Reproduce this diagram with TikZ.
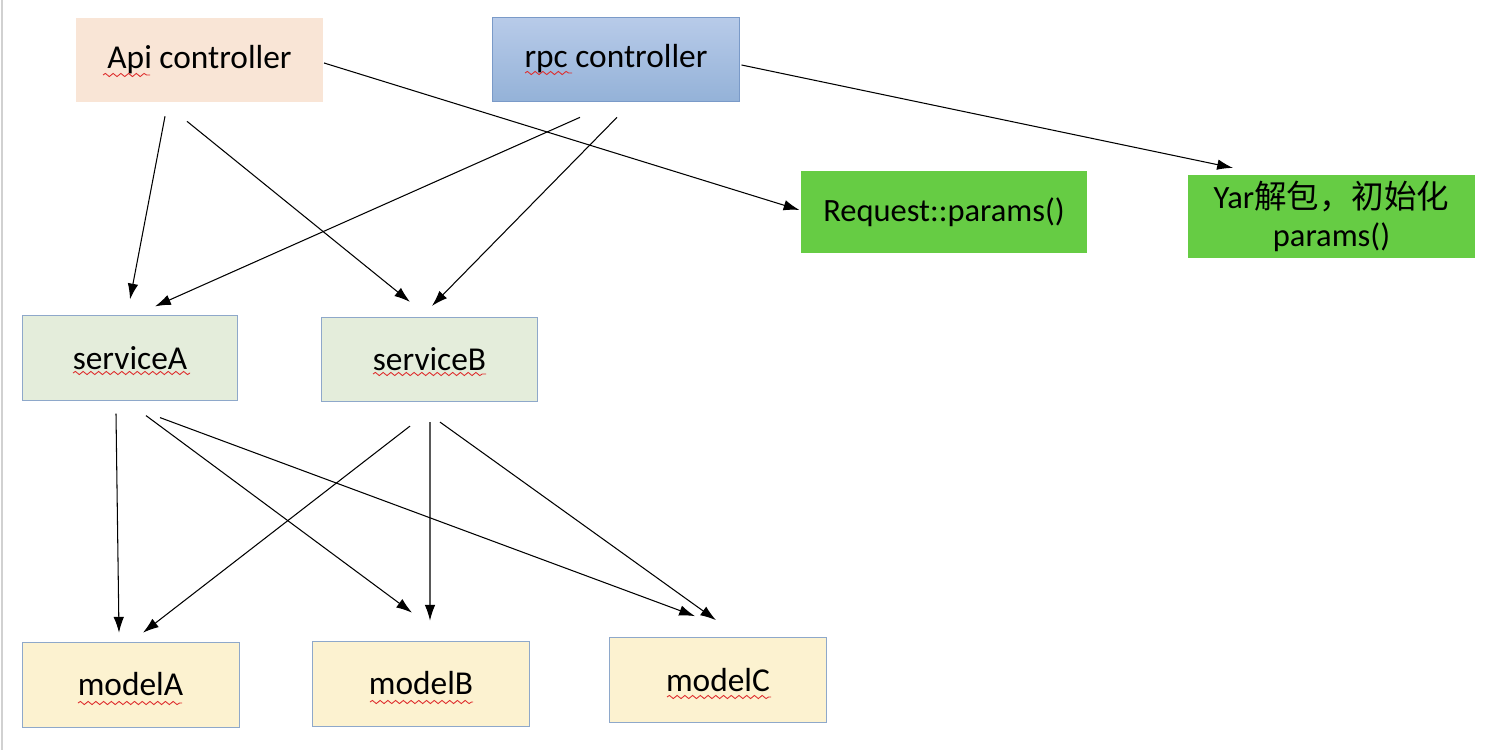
\documentclass[tikz,border=0pt]{standalone}
\usepackage{fontspec}
\setmainfont{Carlito}
\newfontfamily\cjk{Noto Sans CJK SC}
\usetikzlibrary{arrows.meta,decorations.pathmorphing}

\definecolor{apifill}{RGB}{249,229,214}
\definecolor{rpctop}{RGB}{184,203,233}
\definecolor{rpcbot}{RGB}{148,178,216}
\definecolor{rpcline}{RGB}{122,154,200}
\definecolor{grn}{RGB}{102,204,68}
\definecolor{svcfill}{RGB}{228,237,219}
\definecolor{modfill}{RGB}{252,242,208}
\definecolor{boxline}{RGB}{142,168,202}
\definecolor{spellred}{RGB}{222,45,45}

\begin{document}
\begin{tikzpicture}[x=0.02cm, y=-0.02cm,
		box/.style={inner sep=0pt, font=\fontsize{19}{23}\selectfont},
		ctrl/.style={box, minimum width=4.93cm, minimum height=1.68cm},
		svc/.style={box, draw=boxline, fill=svcfill, minimum width=4.31cm, minimum height=1.69cm},
		mdl/.style={box, draw=boxline, fill=modfill, minimum width=4.34cm, minimum height=1.70cm},
		res/.style={box, fill=grn, minimum width=5.73cm, minimum height=1.65cm, align=center,
			font=\fontsize{18.5}{22}\selectfont},
		call/.style={-{Latex[length=9pt,width=6pt]}, line width=0.6pt},
		wave/.style={spellred, line width=0.5pt, decorate,
			decoration={snake, amplitude=0.9pt, segment length=4.4pt}}]

	\useasboundingbox (0,0) rectangle (1504,750);
	\draw[black!18, line width=1pt] (2,0) -- (2,750);

	% controllers
	\node[ctrl, fill=apifill] (api) at (199.5,60) {Api controller};
	\node[ctrl, draw=rpcline, top color=rpctop, bottom color=rpcbot] (rpc) at (616,59) {rpc controller};

	% params
	\node[res] (req) at (944,212) {Request::params()};
	\node[res] (yar) at (1331.5,216.5) {Yar{\cjk 解包，初始化}\\params()};

	% services
	\node[svc] (sa) at (130,358) {serviceA};
	\node[svc] (sb) at (429.5,359.5) {serviceB};

	% models
	\node[mdl] (ma) at (130.5,684.5) {modelA};
	\node[mdl] (mb) at (421,683.5) {modelB};
	\node[mdl] (mc) at (718,680) {modelC};

	% spell-check waves
	\draw[wave] ([shift={(-96.5,15)}]api.center) -- ++(47,0);
	\draw[wave] ([shift={(-91,14)}]rpc.center) -- ++(47,0);
	\draw[wave] ([shift={(-57,15)}]sa.center) -- ++(117,0);
	\draw[wave] ([shift={(-56.5,14.5)}]sb.center) -- ++(113,0);
	\draw[wave] ([shift={(-52.5,18.5)}]ma.center) -- ++(104,0);
	\draw[wave] ([shift={(-51,18.5)}]mb.center) -- ++(103,0);
	\draw[wave] ([shift={(-51,17)}]mc.center) -- ++(104,0);

	\draw[call] ([shift={(-34.5,14)}]api.south) -- ([shift={(0,-16)}]sa.north);
	\draw[call] ([shift={(-12.5,19)}]api.south) -- ([shift={(-19.5,-15)}]sb.north);
	\draw[call] ([shift={(1,3)}]api.east) -- ([shift={(-1,-2)}]req.west);

	\draw[call] ([shift={(-36,16)}]rpc.south) -- ([shift={(25,-9)}]sa.north);
	\draw[call] ([shift={(1,16)}]rpc.south) -- ([shift={(2.5,-11)}]sb.north);
	\draw[call] ([shift={(2,6)}]rpc.east) -- ([shift={(-98.5,-7)}]yar.north);

	\draw[call] ([shift={(-14,13)}]sa.south) -- ([shift={(-11.5,-9)}]ma.north);
	\draw[call] ([shift={(16,15)}]sa.south) -- ([shift={(-9,-28)}]mb.north);
	\draw[call] ([shift={(30,17)}]sa.south) -- ([shift={(-23,-21)}]mc.north);

	\draw[call] ([shift={(-19.5,24)}]sb.south) -- ([shift={(12.5,-9)}]ma.north);
	\draw[call] ([shift={(0.5,20)}]sb.south) -- ([shift={(9,-20)}]mb.north);
	\draw[call] ([shift={(10.5,20)}]sb.south) -- ([shift={(-2,-17)}]mc.north);

\end{tikzpicture}
\end{document}
